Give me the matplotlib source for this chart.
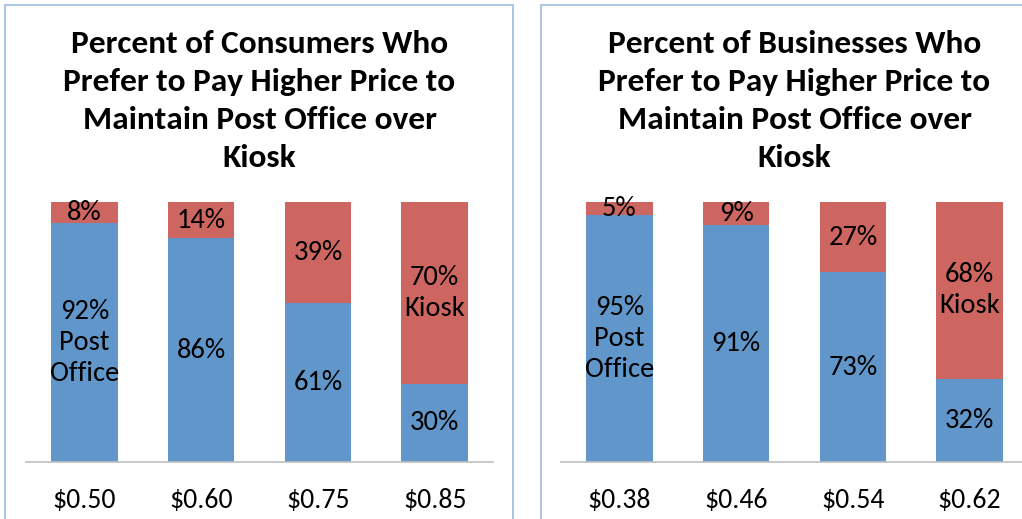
import matplotlib.pyplot as plt
from matplotlib.patches import Rectangle

plt.rcParams['font.family'] = ['Carlito', 'Lato', 'DejaVu Sans']

consumer_prices = ['$0.50', '$0.60', '$0.75', '$0.85']
consumer_post = [92, 86, 61, 30]
consumer_kiosk = [8, 14, 39, 70]

business_prices = ['$0.38', '$0.46', '$0.54', '$0.62']
business_post = [95, 91, 73, 32]
business_kiosk = [5, 9, 27, 68]

titles = ['Percent of Consumers Who\nPrefer to Pay Higher Price to\nMaintain Post Office over\nKiosk',
          'Percent of Businesses Who\nPrefer to Pay Higher Price to\nMaintain Post Office over\nKiosk']

BLUE = '#6096C9'
RED = '#CD6660'
W, H = 1022, 519

fig = plt.figure(figsize=(W / 100, H / 100), dpi=100)

# panel frames
for x0, x1 in [(5, 513), (541, 1030)]:
    fig.patches.append(Rectangle((x0 / W, -0.05), (x1 - x0) / W, (H - 5) / H + 0.05,
                                 transform=fig.transFigure, fill=False,
                                 edgecolor='#9DBBE0', linewidth=1.2))


def draw(left_px, prices, post, kiosk, title):
    ax = fig.add_axes([left_px / W, (H - 462) / H, 467 / W, 260 / H])
    x = range(len(prices))
    ax.bar(x, post, width=0.57, color=BLUE)
    ax.bar(x, kiosk, width=0.57, bottom=post, color=RED)
    for i in x:
        p = f'{post[i]}%'
        k = f'{kiosk[i]}%'
        if i == 0:
            p += '\nPost\nOffice'
        if i == len(prices) - 1:
            k += '\nKiosk'
        ax.text(i, post[i] / 2, p, ha='center', va='center', fontsize=20.5, linespacing=1.3)
        ax.text(i, post[i] + kiosk[i] / 2, k, ha='center', va='center', fontsize=20.5, linespacing=1.3)
    ax.set_xlim(-0.5, len(prices) - 0.5)
    ax.set_ylim(0, 100)
    ax.set_xticks(list(x))
    ax.set_xticklabels(prices, fontsize=20)
    ax.tick_params(axis='x', length=0, pad=19)
    ax.set_yticks([])
    for s in ['top', 'left', 'right']:
        ax.spines[s].set_visible(False)
    ax.spines['bottom'].set_color('#BFBFBF')
    ax.spines['bottom'].set_linewidth(1.2)
    ax.set_facecolor('none')
    fig.text((left_px + 233.5) / W, 1 - 101 / H, title, ha='center', va='center',
             fontsize=24, fontweight='bold', linespacing=1.43)


draw(26, consumer_prices, consumer_post, consumer_kiosk, titles[0])
draw(561, business_prices, business_post, business_kiosk, titles[1])

fig.savefig('out.png', dpi=100)
